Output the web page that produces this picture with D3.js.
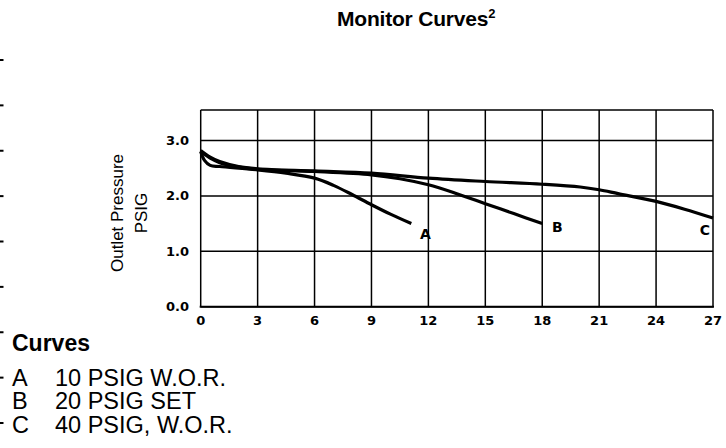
<!DOCTYPE html>
<meta charset="utf-8">
<title>Monitor Curves</title>
<style>
body {
  margin: 0;
  background: #fff;
}
text {
  fill: #000;
}
.grid line {
  stroke: #000;
  stroke-width: 1.5px;
}
.curve {
  fill: none;
  stroke: #000;
  stroke-width: 3.2px;
}
.tick-label {
  font-family: "DejaVu Sans", sans-serif;
  font-weight: bold;
  font-size: 13px;
}
.sans {
  font-family: "Liberation Sans", Arial, sans-serif;
}
</style>
<body>
<script src="https://d3js.org/d3.v7.min.js"></script>
<script>
var xTicks = [0, 3, 6, 9, 12, 15, 18, 21, 24, 27],
    yTicks = [0, 1, 2, 3],
    yTickLabels = ["0.0", "1.0", "2.0", "3.0"];

var curveA = [[0, 2.8], [0.2, 2.64], [0.5, 2.55], [1, 2.53], [3, 2.47], [4.5, 2.41], [6, 2.32],
              [7, 2.19], [8, 2.02], [9, 1.84], [10, 1.67], [11.1, 1.5]],
    curveB = [[0, 2.8], [0.5, 2.68], [1, 2.6], [2, 2.52], [3, 2.48], [6, 2.44], [9, 2.38],
              [10.5, 2.31], [12, 2.2], [13.5, 2.04], [15, 1.86], [16.5, 1.68], [18, 1.5]],
    curveC = [[0, 2.82], [0.5, 2.7], [1, 2.62], [2, 2.53], [3, 2.49], [6, 2.45], [9, 2.41],
              [12, 2.32], [15, 2.26], [18, 2.21], [20, 2.16], [21, 2.11], [22, 2.04],
              [24, 1.9], [25.5, 1.76], [27, 1.6]];

var curveNames = ["A", "B", "C"],
    legendText = ["10 PSIG W.O.R.", "20 PSIG SET", "40 PSIG, W.O.R."];

// edge marks left over from the page on the left
var edgeMarks = [0, 1, 2, 3, 4, 5, 6, 7, 8];

var w = 726,
    h = 448;

var svg = d3.select("body").append("svg")
    .attr("width", w)
    .attr("height", h);

var x = d3.scaleLinear().domain([0, 27]).range([200.7, 713]),
    y = d3.scaleLinear().domain([0, 3.55]).range([306.7, 110]);

// title
var title = svg.append("text")
    .attr("class", "sans")
    .attr("x", 337)
    .attr("y", 26)
    .style("font-weight", "bold")
    .style("font-size", "21px")
    .style("letter-spacing", "-0.2px");
title.append("tspan").text("Monitor Curves");
title.append("tspan")
    .attr("dy", -8)
    .style("font-size", "13px")
    .text("2");

// grid
var grid = svg.append("g").attr("class", "grid");
grid.selectAll(".v")
    .data(xTicks)
  .enter().append("line")
    .attr("x1", x).attr("x2", x)
    .attr("y1", y(0)).attr("y2", y(3.55));
grid.selectAll(".h")
    .data(yTicks.concat([3.55]))
  .enter().append("line")
    .attr("x1", x(0)).attr("x2", x(27))
    .attr("y1", y).attr("y2", y);
grid.append("line")
    .attr("x1", x(0) - 1).attr("x2", x(27) + 1)
    .attr("y1", y(0)).attr("y2", y(0))
    .style("stroke-width", "2px");

// tick labels
svg.selectAll(".xl")
    .data(xTicks)
  .enter().append("text")
    .attr("class", "tick-label")
    .attr("x", x)
    .attr("y", y(0) + 18)
    .attr("text-anchor", "middle")
    .text(function(d) { return d; });
svg.selectAll(".yl")
    .data(yTicks)
  .enter().append("text")
    .attr("class", "tick-label")
    .attr("x", 189)
    .attr("y", function(d) { return y(d) + 4.5; })
    .attr("text-anchor", "end")
    .text(function(d, i) { return yTickLabels[i]; });

// axis title
var ytitle = svg.append("text")
    .attr("class", "sans")
    .attr("transform", "translate(0,213)rotate(-90)")
    .attr("text-anchor", "middle")
    .style("font-size", "17px");
ytitle.append("tspan").attr("x", 0).attr("y", 123).text("Outlet Pressure");
ytitle.append("tspan").attr("x", 0).attr("y", 147).text("PSIG");

// curves
var line = d3.line()
    .x(function(d) { return x(d[0]); })
    .y(function(d) { return y(d[1]); })
    .curve(d3.curveCatmullRom);

var series = [curveA, curveB, curveC];
var labelShift = { A: [14, 15], B: [15, 8], C: [-8, 17] };

svg.selectAll(".curve")
    .data(series)
  .enter().append("path")
    .attr("class", "curve")
    .attr("d", line);

svg.selectAll(".curve-name")
    .data(series)
  .enter().append("text")
    .attr("class", "tick-label")
    .attr("text-anchor", "middle")
    .attr("x", function(d, i) { var p = d[d.length - 1]; return x(p[0]) + labelShift[curveNames[i]][0]; })
    .attr("y", function(d, i) { var p = d[d.length - 1]; return y(p[1]) + labelShift[curveNames[i]][1]; })
    .style("font-size", "14px")
    .text(function(d, i) { return curveNames[i]; });

// legend
svg.append("text")
    .attr("class", "sans")
    .attr("x", 12)
    .attr("y", 351)
    .style("font-weight", "bold")
    .style("font-size", "23px")
    .text("Curves");

var legend = svg.selectAll(".legend")
    .data(curveNames)
  .enter().append("g")
    .attr("class", "sans")
    .style("font-size", "23.5px")
    .attr("transform", function(d, i) { return "translate(0," + (386 + i * 23.3) + ")"; });
legend.append("text").attr("x", 12).text(function(d) { return d; });
legend.append("text").attr("x", 55).text(function(d, i) { return legendText[i]; });

// edge marks
var em = d3.scaleLinear().domain([0, 8]).range([60, 423]);
svg.selectAll(".edge")
    .data(edgeMarks)
  .enter().append("line")
    .attr("x1", 0).attr("x2", 3.5)
    .attr("y1", em).attr("y2", em)
    .style("stroke", "#000")
    .style("stroke-width", "2px");
</script>
